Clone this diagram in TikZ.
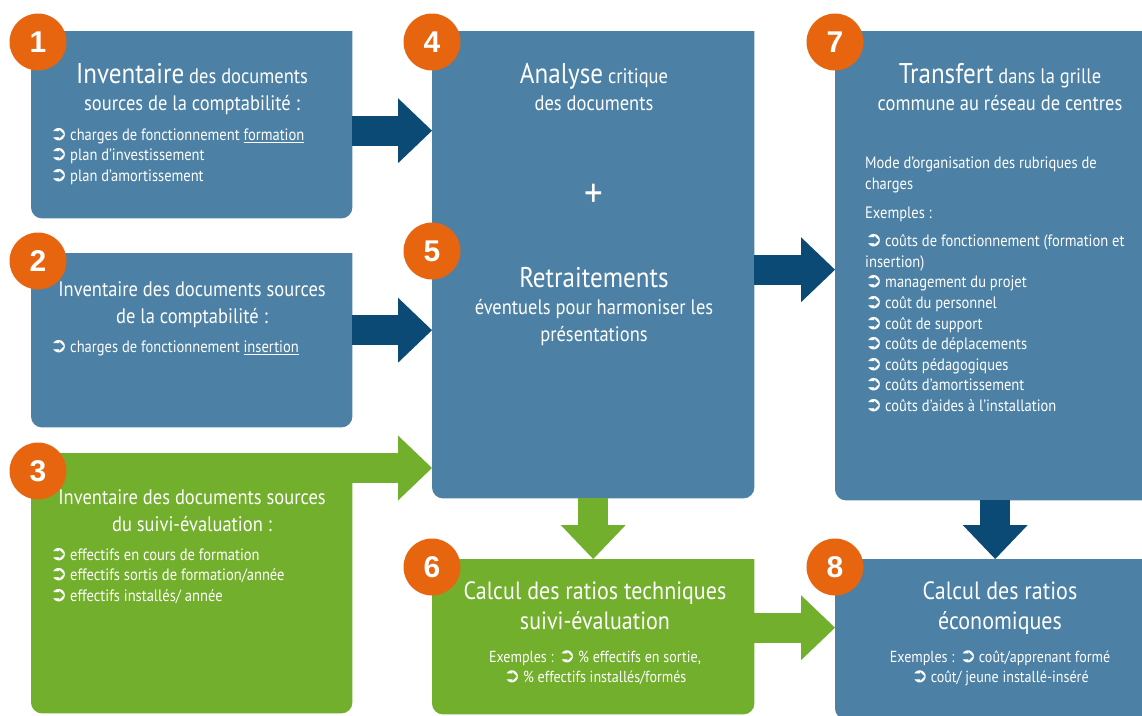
\documentclass[tikz,border=0pt]{standalone}
\usepackage{fontspec}
\setmainfont[FakeStretch=0.88]{PT Sans}
\newfontfamily\symfont{DejaVu Sans}
\newfontfamily\digitfont{Liberation Sans}
\usetikzlibrary{arrows.meta,positioning}

\definecolor{panelblue}{HTML}{4C81A5}
\definecolor{panelgreen}{HTML}{72AF2C}
\definecolor{arrownavy}{HTML}{0A4A75}
\definecolor{badgeorange}{HTML}{E8650F}

% item marker in the lists
\newcommand\itemmark{\scalebox{1.25}{\symfont ➲}\,}
% panel with square top and rounded bottom corners
\newcommand\fillpanel[2]{%
  \fill[#2] (#1.north west) -- (#1.north east)
    -- ([yshift=11pt]#1.south east) arc[start angle=0, end angle=-90, radius=11pt]
    -- ([xshift=11pt]#1.south west) arc[start angle=270, end angle=180, radius=11pt]
    -- cycle;}
\newcommand\bigword[1]{{\fontsize{28.5}{30}\selectfont #1}}

\tikzset{
  panel/.style={inner sep=0pt, anchor=north west},
  badge/.style={circle, fill=badgeorange, text=white, minimum size=57pt,
    inner sep=0pt, font=\digitfont\bfseries\fontsize{30}{30}\selectfont},
  heading/.style={text=white, align=center, inner sep=0pt, anchor=north,
    font=\fontsize{21}{27}\selectfont},
  itemlist/.style={text=white, align=left, inner sep=0pt, anchor=north west,
    font=\fontsize{16.5}{20.6}\selectfont},
  bigarrow/.style={line width=30pt, -{Triangle[length=34pt, width=65pt, line width=0pt]}},
}

\begin{document}
\begin{tikzpicture}[x=1pt, y=-1pt]
  \useasboundingbox (0,0) rectangle (1142,715);

  % panels
  \node[panel, minimum width=321pt, minimum height=187pt] (b1) at (31,31) {};
  \node[panel, minimum width=321pt, minimum height=174pt] (b2) at (31,253) {};
  \node[panel, minimum width=321pt, minimum height=260pt] (b3) at (31,453) {};
  \node[panel, minimum width=322pt, minimum height=467pt] (b45) at (432,31) {};
  \node[panel, minimum width=320pt, minimum height=469pt] (b7) at (835,31) {};
  \node[panel, minimum width=322pt, minimum height=155pt] (b6) at (432,559) {};
  \node[panel, minimum width=320pt, minimum height=160pt] (b8) at (835,559) {};

  \fillpanel{b1}{panelblue}
  \fillpanel{b2}{panelblue}
  \fillpanel{b3}{panelgreen}
  \fillpanel{b45}{panelblue}
  \fillpanel{b7}{panelblue}
  \fillpanel{b6}{panelgreen}
  \fillpanel{b8}{panelblue}

  % arrows
  \draw[bigarrow, arrownavy] ([yshift=-6pt]b1.east) -- ([yshift=-6pt]b1.east -| b45.west);
  \draw[bigarrow, arrownavy] ([yshift=10pt]b2.east) -- ([yshift=10pt]b2.east -| b45.west);
  \draw[bigarrow, panelgreen] ([yshift=-15pt]b3.north east) -- ([yshift=-15pt]b3.north east -| b45.west);
  \draw[bigarrow, arrownavy] ([yshift=-5pt]b45.east) -- ([yshift=-5pt]b45.east -| b7.west);
  \draw[bigarrow, panelgreen] (b45.south) -- (b45.south |- b6.north);
  \draw[bigarrow, arrownavy] (b7.south) -- (b7.south |- b8.north);
  \draw[bigarrow, panelgreen] ([yshift=9pt]b6.east) -- ([yshift=9pt]b6.east -| b8.west);

  % texts
  \node[heading] (t1) at (192,63) {\bigword{Inventaire} des documents\\sources de la comptabilité :};
  \node[itemlist] (l1) at (50,128) {\itemmark charges de fonctionnement \underline{formation}\\
    \itemmark plan d’investissement\\\itemmark plan d’amortissement};

  \node[heading] (t2) at (192,281) {Inventaire des documents sources\\de la comptabilité :};
  \node[itemlist] (l2) at (50,340) {\itemmark charges de fonctionnement \underline{insertion}};

  \node[heading] (t3) at (192,489) {Inventaire des documents sources\\du suivi-évaluation :};
  \node[itemlist] (l3) at (50,548) {\itemmark effectifs en cours de formation\\
    \itemmark effectifs sortis de formation/année\\\itemmark effectifs installés/ année};

  \node[heading] (t4) at (594,63) {\bigword{Analyse} critique\\des documents};
  \node[text=white, font=\fontsize{42}{42}\selectfont] (plus) at (594,196) {+};
  \node[heading] (t5) at (594,267) {\bigword{Retraitements}\\éventuels pour harmoniser les\\présentations};

  \node[heading] (t7) at (1000,63) {\bigword{Transfert} dans la grille\\commune au réseau de centres};
  \node[itemlist] (l7) at (865,157) {Mode d’organisation des rubriques de\\charges\\[8pt]
    Exemples :\\[8pt]
    \itemmark coûts de fonctionnement (formation et\\insertion)\\
    \itemmark management du projet\\\itemmark coût du personnel\\\itemmark coût de support\\
    \itemmark coûts de déplacements\\\itemmark coûts pédagogiques\\
    \itemmark coûts d’amortissement\\\itemmark coûts d’aides à l’installation};

  \node[heading, font=\fontsize{25}{30}\selectfont] (t6) at (595,581) {Calcul des ratios techniques\\suivi-évaluation};
  \node[heading, font=\fontsize{16}{20}\selectfont] (e6) at (595,651) {Exemples : \itemmark\% effectifs en sortie,\\\itemmark\% effectifs installés/formés};

  \node[heading, font=\fontsize{25}{30}\selectfont] (t8) at (1000,581) {Calcul des ratios\\économiques};
  \node[heading, font=\fontsize{16}{20}\selectfont] (e8) at (1000,651) {Exemples : \itemmark coût/apprenant formé\\\itemmark coût/ jeune installé-inséré};

  % step numbers
  \node[badge] (n1) at (38,42) {1};
  \node[badge] (n2) at (38,261) {2};
  \node[badge] (n3) at (38,471) {3};
  \node[badge] (n4) at (432,42) {4};
  \node[badge] (n5) at (432,251) {5};
  \node[badge] (n6) at (432,567) {6};
  \node[badge] (n7) at (835,42) {7};
  \node[badge] (n8) at (835,567) {8};
\end{tikzpicture}
\end{document}
